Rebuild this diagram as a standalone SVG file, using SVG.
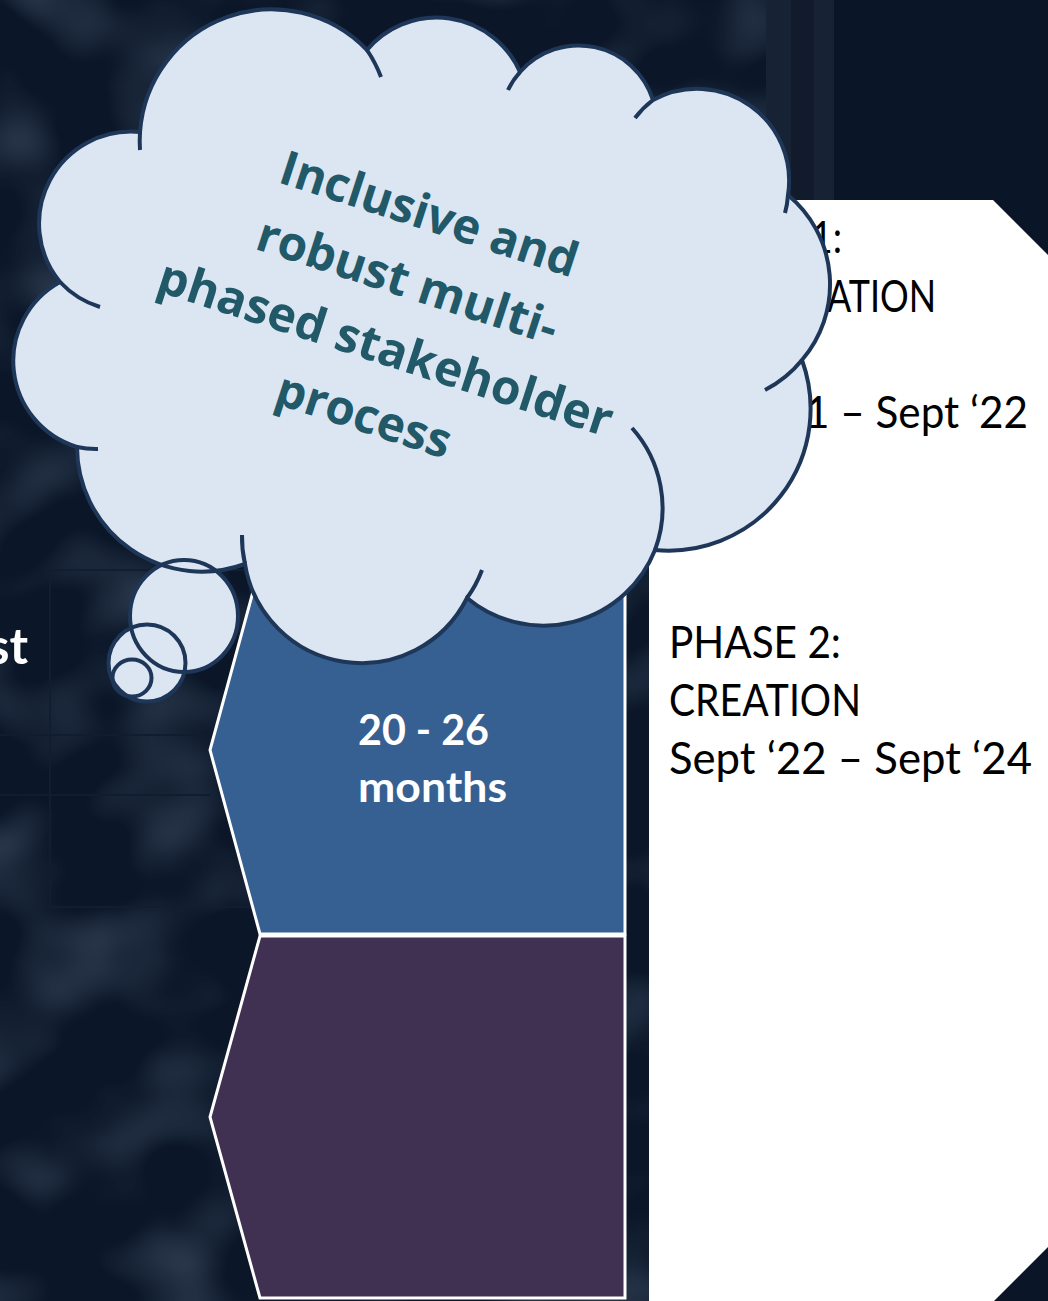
<svg xmlns="http://www.w3.org/2000/svg" width="1048" height="1301" viewBox="0 0 1048 1301">
  <defs>
    <filter id="tex" x="0" y="0" width="1" height="1" filterUnits="objectBoundingBox">
      <feTurbulence type="fractalNoise" baseFrequency="0.009 0.011" numOctaves="2" seed="7" result="n"/>
      <feColorMatrix in="n" type="matrix" values="0 0 0 0 0.10  0 0 0 0 0.14  0 0 0 0 0.21  0 0 0 2.4 -1.1"/>
    </filter>
    <style>
      .phase { fill: #ffffff; }
      .chev { stroke: #ffffff; stroke-width: 3; stroke-linejoin: miter; }
      .ptxt { font-family: Lato, "Liberation Sans", sans-serif; font-size: 45px; fill: #000000; }
      .dur { font-family: Lato, "Liberation Sans", sans-serif; font-size: 42px; font-weight: bold; fill: #ffffff; }
      .cfill { fill: #dce6f2; }
      .cline { fill: none; stroke: #1e3758; stroke-width: 4; stroke-linecap: butt; }
      .ctxt { font-family: "Open Sans", "Noto Sans", sans-serif; font-size: 48px; font-weight: bold; fill: #215968; text-anchor: middle; }
    </style>
  </defs>

  <!-- background -->
  <g id="background">
    <rect x="0" y="0" width="1048" height="1301" fill="#0a1628"/>
    <rect x="0" y="0" width="766" height="1301" fill="#0b1729"/>
    <rect x="0" y="0" width="766" height="1301" filter="url(#tex)" opacity="0.45"/>
    <rect x="766" y="0" width="68" height="210" fill="#172235"/>
    <rect x="791" y="0" width="23" height="210" fill="#111b2c"/>
    <rect x="50" y="570" width="200" height="337" fill="none" stroke="#111d30" stroke-width="2"/>
    <line x1="0" y1="735" x2="210" y2="735" stroke="#101c2f" stroke-width="2"/>
    <line x1="0" y1="795" x2="210" y2="795" stroke="#101c2f" stroke-width="2"/>
    <text x="28" y="664" text-anchor="end" font-family="Lato, 'Liberation Sans', sans-serif" font-size="50" font-weight="bold" fill="#ffffff">st</text>
  </g>

  <!-- timeline chevrons -->
  <g id="phase2-duration">
    <polygon class="chev" fill="#366092" points="260,566 625,566 625,934 260,934 210,750"/>
    <text class="dur" x="358" y="745" textLength="131" lengthAdjust="spacingAndGlyphs">20 - 26</text>
    <text class="dur" x="358" y="802" textLength="149" lengthAdjust="spacingAndGlyphs">months</text>
  </g>
  <g id="phase3-duration">
    <polygon class="chev" fill="#403152" points="260,936 625,936 625,1298 260,1298 210,1117"/>
  </g>

  <!-- white phase panel -->
  <g id="phase-panel">
    <polygon class="phase" points="649,200 993,200 1048,255 1048,1247 994,1301 649,1301"/>
    <text class="ptxt" x="811" y="253" textLength="31" lengthAdjust="spacingAndGlyphs">1:</text>
    <text class="ptxt" x="827" y="312" textLength="109" lengthAdjust="spacingAndGlyphs">ATION</text>
    <text class="ptxt" x="805" y="428" textLength="223" lengthAdjust="spacingAndGlyphs">1 – Sept ‘22</text>
    <text class="ptxt" x="669" y="658" textLength="172" lengthAdjust="spacingAndGlyphs">PHASE 2:</text>
    <text class="ptxt" x="669" y="716" textLength="192" lengthAdjust="spacingAndGlyphs">CREATION</text>
    <text class="ptxt" x="669" y="774" textLength="363" lengthAdjust="spacingAndGlyphs">Sept ‘22 – Sept ‘24</text>
  </g>

  <!-- thought cloud -->
  <g id="thought-cloud">
    <g class="cfill">
      <path d="M140,132 A132,132 0 0 1 367,50 A91,91 0 0 1 520,72 A78,78 0 0 1 653,100 A92,92 0 0 1 788,195 A116,116 0 0 1 802,360 A142,142 0 0 1 655,550 A120,120 0 0 1 467,598 A118,118 0 0 1 245,564 A125,125 0 0 1 77,447 A90,90 0 0 1 60,282 A92,92 0 0 1 140,132 Z"/>
      <ellipse cx="184" cy="616" rx="54" ry="56"/>
      <ellipse cx="147" cy="663" rx="38.5" ry="38.5"/>
      <ellipse cx="132" cy="678" rx="19.5" ry="18.5"/>
    </g>
    <g class="cline">
      <path d="M140,132 A132,132 0 0 1 367,50 A91,91 0 0 1 520,72 A78,78 0 0 1 653,100 A92,92 0 0 1 788,195 A116,116 0 0 1 802,360 A142,142 0 0 1 655,550 A120,120 0 0 1 467,598 A118,118 0 0 1 245,564 A125,125 0 0 1 77,447 A90,90 0 0 1 60,282 A92,92 0 0 1 140,132 Z"/>
      <path d="M140,132 A132,132 0 0 0 140,150"/>
      <path d="M367,50 A132,132 0 0 1 381,77"/>
      <path d="M520,72 A78,78 0 0 0 508,90"/>
      <path d="M653,100 A92,92 0 0 0 635,118"/>
      <path d="M788,195 A92,92 0 0 1 785,213"/>
      <path d="M802,360 A116,116 0 0 1 765,390"/>
      <path d="M655,550 A120,120 0 0 0 632,428"/>
      <path d="M467,598 A118,118 0 0 0 482,570"/>
      <path d="M245,564 A118,118 0 0 1 242,535"/>
      <path d="M77,447 A90,90 0 0 0 98,449"/>
      <path d="M60,282 A92,92 0 0 0 100,307"/>
      <ellipse cx="184" cy="616" rx="54" ry="56"/>
      <ellipse cx="147" cy="663" rx="38.5" ry="38.5"/>
      <ellipse cx="132" cy="678" rx="19.5" ry="18.5"/>
    </g>
    <g transform="rotate(18)">
      <text class="ctxt" x="474.5" y="87.5" textLength="310" lengthAdjust="spacingAndGlyphs">Inclusive and</text>
      <text class="ctxt" x="474.5" y="158" textLength="313" lengthAdjust="spacingAndGlyphs">robust multi-</text>
      <text class="ctxt" x="474.5" y="228.5" textLength="475" lengthAdjust="spacingAndGlyphs">phased stakeholder</text>
      <text class="ctxt" x="474.5" y="299" textLength="181" lengthAdjust="spacingAndGlyphs">process</text>
    </g>
  </g>
</svg>
